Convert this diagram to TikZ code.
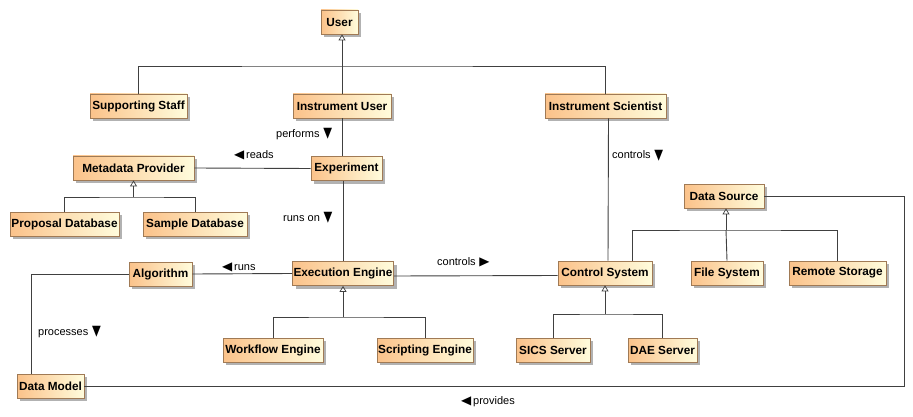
\documentclass[tikz,border=0pt]{standalone}
\usepackage{fontspec}
\setmainfont{Liberation Sans}
\newfontfamily\symfont{DejaVu Sans}
\usetikzlibrary{arrows.meta,shadows}
\definecolor{boxleft}{HTML}{FBC28A}
\definecolor{boxright}{HTML}{FFFCDC}
\definecolor{boxline}{HTML}{A07A55}
\definecolor{linecol}{HTML}{404040}
\newcommand{\dn}{{\symfont\fontsize{12}{12}\selectfont\raisebox{-0.5pt}{\scalebox{0.95}[1.2]{\char"25BC}}}}
\newcommand{\lf}{{\symfont\fontsize{12}{12}\selectfont\scalebox{1.1}[1]{\char"25C0}}}
\newcommand{\rt}{{\symfont\fontsize{12}{12}\selectfont\scalebox{1.1}[1]{\char"25B6}}}
\begin{document}
\begin{tikzpicture}[x=1pt,y=-1pt,
  box/.style={draw=boxline, line width=0.8pt, left color=boxleft, right color=boxright,
    minimum height=24pt, inner sep=1pt, font=\fontsize{11.8}{13}\selectfont\bfseries,
    drop shadow={shadow xshift=3pt, shadow yshift=-3pt, fill=black!30, opacity=1}},
  conn/.style={draw=linecol, line width=0.9pt},
  gen/.style={conn, -{Triangle[open,width=7pt,length=6pt,line width=0.7pt]}},
  lbl/.style={anchor=west, inner sep=0pt, font=\fontsize{11}{12}\selectfont}]
\fill[white] (0,0) rectangle (913,417);
\useasboundingbox (0,0) rectangle (913,417);

% boxes
\node[box, minimum width=37pt] (user) at (339.5,22) {User};
\node[box, minimum width=97pt] (sstaff) at (138.5,106) {Supporting Staff};
\node[box, minimum width=98pt] (iuser) at (342,106) {Instrument User};
\node[box, minimum width=121pt] (isci) at (605.5,106) {Instrument Scientist};
\node[box, minimum width=121pt] (meta) at (133.5,168) {Metadata Provider};
\node[box, minimum width=71pt] (exp) at (346.5,168.5) {Experiment};
\node[box, minimum width=109pt] (propdb) at (64.5,224) {Proposal Database};
\node[box, minimum width=104pt] (sampdb) at (195,224) {Sample Database};
\node[box, minimum width=80pt] (dsrc) at (724,196) {Data Source};
\node[box, minimum width=63pt] (algo) at (160.5,274) {Algorithm};
\node[box, minimum width=100pt] (exec) at (343,273.5) {Execution Engine};
\node[box, minimum width=94pt] (csys) at (605,273) {Control System};
\node[box, minimum width=72pt] (fsys) at (727,273) {File System};
\node[box, minimum width=97pt] (rstor) at (837.5,273) {Remote Storage};
\node[box, minimum width=100pt] (wflow) at (273,350) {Workflow Engine};
\node[box, minimum width=96pt] (script) at (425,350) {Scripting Engine};
\node[box, minimum width=74pt] (sics) at (553,350) {SICS Server};
\node[box, minimum width=69pt] (dae) at (662.5,350) {DAE Server};
\node[box, minimum width=67pt] (dmodel) at (50.5,386) {Data Model};

% junction points
\coordinate (j1) at (343,66);
\coordinate (j2) at (133.5,197);
\coordinate (j3) at (343,317);
\coordinate (j4) at (605,314);
\coordinate (j5) at (726,230);
\coordinate (c1) at (904,290);

% generalizations
\draw[conn] (sstaff.north) |- (j1) -| (isci.north);
\draw[gen] (iuser.north) -- (iuser.north |- user.south);
\draw[conn] (propdb.north) |- (j2) -| (sampdb.north);
\draw[gen] (j2) -- (meta.south);
\draw[conn] (wflow.north) |- (j3) -| (script.north);
\draw[gen] (j3) -- (exec.south);
\draw[conn] (sics.north) |- (j4) -| (dae.north);
\draw[gen] (j4) -- (csys.south);
\draw[conn] ([xshift=27pt]csys.north) |- (j5) -| (rstor.north);
\draw[conn] (fsys.north) -- (j5);
\draw[gen] (j5) -- (j5 |- dsrc.south);

% associations
\draw[conn] (iuser.south) -- (iuser.south |- exp.north);
\draw[conn] (meta.east) -- (exp.west);
\draw[conn] (exec.north |- exp.south) -- (exec.north);
\draw[conn] (algo.east) -- (exec.west);
\draw[conn] (algo.west) -| ([xshift=-19.5pt]dmodel.north);
\draw[conn] ([yshift=-2.5pt]exec.east) -- ([yshift=-2.5pt]csys.west);
\draw[conn] ([xshift=3pt]isci.south) -- ([xshift=3pt]csys.north);
\draw[conn] (dmodel.east) -| (c1) |- (dsrc.east);

% labels
\node[lbl] (lperf) at (276,134) {performs\,\,\dn};
\node[lbl] (lreads) at (234,155) {\lf\,reads};
\node[lbl] (lrunson) at (283,218) {runs on\,\,\dn};
\node[lbl] (lctrl1) at (612,155.5) {controls\,\,\dn};
\node[lbl] (lctrl2) at (437,262) {controls\,\,\rt};
\node[lbl] (lruns) at (222,267) {\lf\,runs};
\node[lbl] (lproc) at (38,332) {processes\,\,\dn};
\node[lbl] (lprov) at (461,402) {\lf\,provides};
\end{tikzpicture}
\end{document}
